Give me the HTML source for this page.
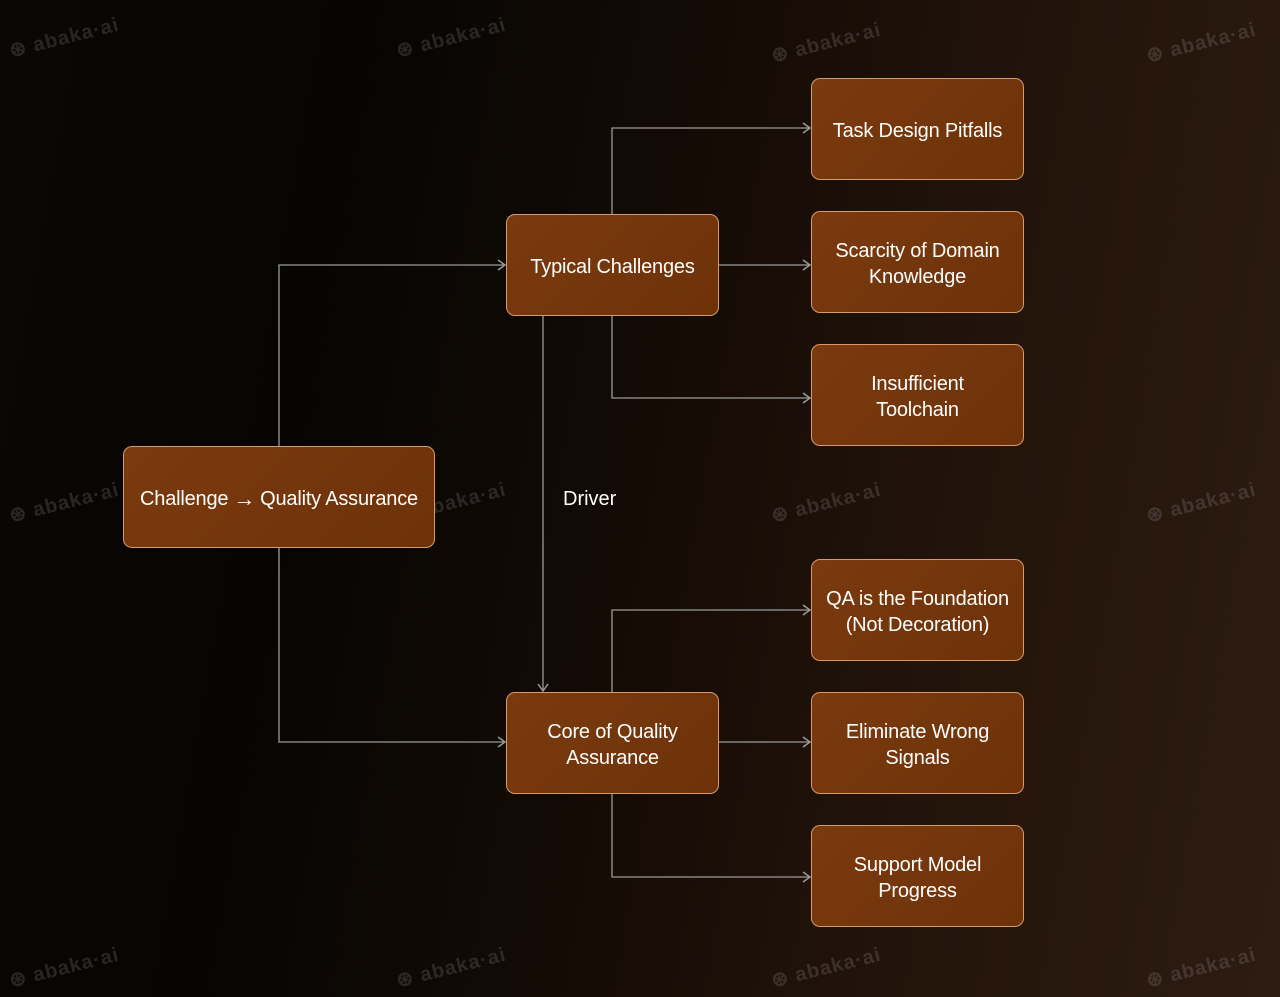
<!DOCTYPE html>
<html><head><meta charset="utf-8"><style>
html,body{margin:0;padding:0}
body{width:1280px;height:997px;overflow:hidden;position:relative;font-family:"Liberation Sans",sans-serif;
background:linear-gradient(100deg,#0a0806 0%,#060504 25%,#140b05 50%,#24150b 75%,#2c1c12 100%);}
.n{position:absolute;box-sizing:border-box;border:1.5px solid #d69a6c;border-radius:9px;
background:linear-gradient(135deg,#7a3a0e,#6e3209);color:#fff;font-size:20px;line-height:26px;padding-top:4px;
display:flex;align-items:center;justify-content:center;text-align:center;letter-spacing:-0.2px}
.wm{position:absolute;color:rgba(255,255,255,0.13);font-size:20px;transform:rotate(-14deg);font-weight:bold;letter-spacing:1px}
svg{position:absolute;left:0;top:0}
</style></head><body>
<div class="wm" style="left:8px;top:25px">⊛ abaka·ai</div>
<div class="wm" style="left:395px;top:25px">⊛ abaka·ai</div>
<div class="wm" style="left:770px;top:30px">⊛ abaka·ai</div>
<div class="wm" style="left:1145px;top:30px">⊛ abaka·ai</div>
<div class="wm" style="left:8px;top:490px">⊛ abaka·ai</div>
<div class="wm" style="left:395px;top:490px">⊛ abaka·ai</div>
<div class="wm" style="left:770px;top:490px">⊛ abaka·ai</div>
<div class="wm" style="left:1145px;top:490px">⊛ abaka·ai</div>
<div class="wm" style="left:8px;top:955px">⊛ abaka·ai</div>
<div class="wm" style="left:395px;top:955px">⊛ abaka·ai</div>
<div class="wm" style="left:770px;top:955px">⊛ abaka·ai</div>
<div class="wm" style="left:1145px;top:955px">⊛ abaka·ai</div>
<svg width="1280" height="997" fill="none" stroke="#9a9a9a" stroke-width="1.3">
<polyline points="279,446 279,265 505,265"/>
<polyline points="279,548 279,742 505,742"/>
<polyline points="612,214 612,128 810,128"/>
<polyline points="719,265 810,265"/>
<polyline points="612,316 612,398 810,398"/>
<polyline points="543,316 543,691"/>
<polyline points="612,692 612,610 810,610"/>
<polyline points="719,742 810,742"/>
<polyline points="612,794 612,877 810,877"/>
<g stroke-width="1.5">
<polyline points="498,260 505,265 498,270"/><polyline points="498,737 505,742 498,747"/>
<polyline points="803,123 810,128 803,133"/><polyline points="803,260 810,265 803,270"/>
<polyline points="803,393 810,398 803,403"/><polyline points="538,684 543,691 548,684"/>
<polyline points="803,605 810,610 803,615"/><polyline points="803,737 810,742 803,747"/>
<polyline points="803,872 810,877 803,882"/>
</g>
</svg>
<div style="position:absolute;left:563px;top:488px;color:#fff;font-size:20px">Driver</div>
<div class="n" style="left:123px;top:446px;width:312px;height:102px">Challenge <span style="font-size:22px;margin:0 5px">→</span> Quality Assurance</div>
<div class="n" style="left:506px;top:214px;width:213px;height:102px">Typical Challenges</div>
<div class="n" style="left:506px;top:692px;width:213px;height:102px">Core of Quality<br>Assurance</div>
<div class="n" style="left:811px;top:78px;width:213px;height:102px">Task Design Pitfalls</div>
<div class="n" style="left:811px;top:211px;width:213px;height:102px">Scarcity of Domain<br>Knowledge</div>
<div class="n" style="left:811px;top:344px;width:213px;height:102px">Insufficient<br>Toolchain</div>
<div class="n" style="left:811px;top:559px;width:213px;height:102px">QA is the Foundation<br>(Not Decoration)</div>
<div class="n" style="left:811px;top:692px;width:213px;height:102px">Eliminate Wrong<br>Signals</div>
<div class="n" style="left:811px;top:825px;width:213px;height:102px">Support Model<br>Progress</div>
</body></html>
